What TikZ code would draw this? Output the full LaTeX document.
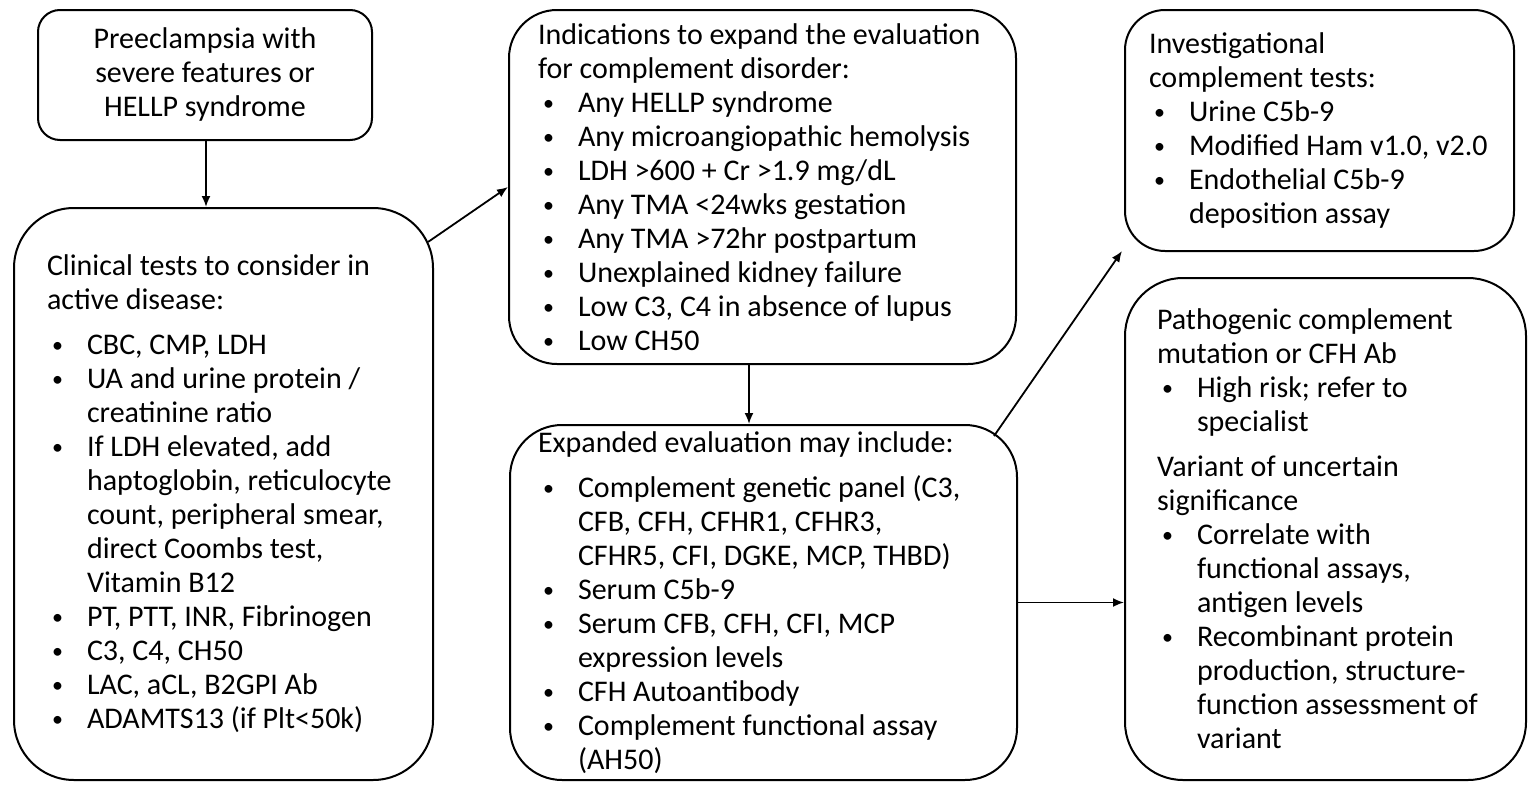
\documentclass[tikz,border=0pt]{standalone}
\usepackage{fontspec}
\setmainfont{Carlito}
\usetikzlibrary{shapes,arrows.meta}
\setlength{\parindent}{0pt}
\newcommand{\boxfont}{\fontsize{30}{34}\selectfont}
\newcommand{\dotmark}{\raisebox{2pt}{\fontsize{22}{22}\selectfont\textbullet}}
\newcommand{\bul}[1]{\par\hangindent=40pt\hangafter=1\noindent\hbox to 40pt{\hspace{5pt}\dotmark\hfil}#1\par}
\newcommand{\gap}{\par\vspace{11pt}}
\tikzset{
	flowbox/.style = {draw, line width=2pt, rectangle, align=flush left, inner sep=0pt,
		font=\boxfont, execute at begin node={\rightskip=-100pt plus 1fil\relax}},
	link/.style    = {line width=1.8pt, -{Latex[length=11pt,width=9pt]}} % connector
}

\begin{document}
\begin{tikzpicture}[x=1pt, y=-1pt, auto]
	\useasboundingbox (0,0) rectangle (1535,798);
	\draw
	node at (205,75)[flowbox, align=center, rounded corners=22pt,
		minimum width=334pt, minimum height=130pt] (pre)
		{Preeclampsia with\\severe features or\\HELLP syndrome}
	node at (223.5,494)[flowbox, rounded corners=60pt, text width=353pt,
		minimum width=419pt, minimum height=572pt] (clin)
		{Clinical tests to consider in\newline active disease:\gap
		\bul{CBC, CMP, LDH}
		\bul{UA and urine protein /\newline creatinine ratio}
		\bul{If LDH elevated, add\newline haptoglobin, reticulocyte\newline count, peripheral smear,\newline direct Coombs test,\newline Vitamin B12}
		\bul{PT, PTT, INR, Fibrinogen}
		\bul{C3, C4, CH50}
		\bul{LAC, aCL, B2GPI Ab}
		\bul{ADAMTS13 (if Plt<50k)}}
	node at (762.5,187)[flowbox, rounded corners=48pt, text width=449pt,
		minimum width=507pt, minimum height=354pt] (ind)
		{Indications to expand the evaluation\newline for complement disorder:
		\bul{Any HELLP syndrome}
		\bul{Any microangiopathic hemolysis}
		\bul{LDH >600 + Cr >1.9 mg/dL}
		\bul{Any TMA <24wks gestation}
		\bul{Any TMA >72hr postpartum}
		\bul{Unexplained kidney failure}
		\bul{Low C3, C4 in absence of lupus}
		\bul{Low CH50}}
	node at (763.5,602.5)[flowbox, rounded corners=52pt, text width=451pt,
		minimum width=507pt, minimum height=355pt] (exp)
		{Expanded evaluation may include:\gap
		\bul{Complement genetic panel (C3,\newline CFB, CFH, CFHR1, CFHR3,\newline CFHR5, CFI, DGKE, MCP, THBD)}
		\bul{Serum C5b-9}
		\bul{Serum CFB, CFH, CFI, MCP\newline expression levels}
		\bul{CFH Autoantibody}
		\bul{Complement functional assay\newline (AH50)}}
	node at (1319.5,130.5)[flowbox, rounded corners=40pt, text width=341pt,
		minimum width=389pt, minimum height=241pt] (inv)
		{Investigational\newline complement tests:
		\bul{Urine C5b-9}
		\bul{Modified Ham v1.0, v2.0}
		\bul{Endothelial C5b-9\newline deposition assay}}
	node at (1325.5,529)[flowbox, rounded corners=58pt, text width=337pt,
		minimum width=401pt, minimum height=502pt] (path)
		{Pathogenic complement\newline mutation or CFH Ab
		\bul{High risk; refer to\newline specialist}\gap
		Variant of uncertain\newline significance
		\bul{Correlate with\newline functional assays,\newline antigen levels}
		\bul{Recombinant protein\newline production, structure-\newline function assessment of\newline variant}}
	;

	\draw[link] ([xshift=1pt]pre.south) -- ([xshift=1pt]pre.south |- clin.north);
	\draw[link] ([xshift=-6pt,yshift=-35pt]clin.north east) -- (ind.west);
	\draw[link] ([xshift=-13.5pt]ind.south) -- ([xshift=-13.5pt]ind.south |- exp.north);
	\draw[link] ([xshift=-24pt,yshift=-12pt]exp.north east) -- ([xshift=-2pt,yshift=1pt]inv.south west);
	\draw[link] (exp.east) -- (exp.east -| path.west);
\end{tikzpicture}
\end{document}
